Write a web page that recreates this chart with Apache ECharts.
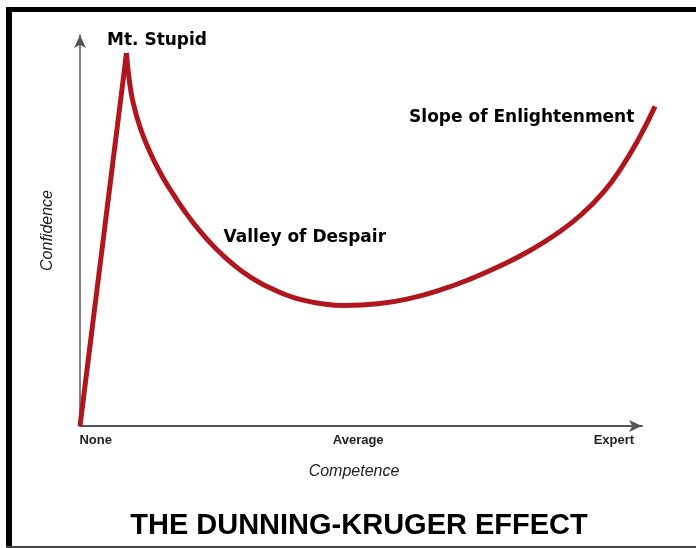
<!DOCTYPE html>
<html>
<head>
<meta charset="utf-8">
<script src="https://cdn.jsdelivr.net/npm/echarts@6/dist/echarts.min.js"></script>
<style>
  html, body { margin: 0; padding: 0; background: #fff; }
  #chart { width: 696px; height: 548px; }
</style>
</head>
<body>
<div id="chart"></div>
<script>
// competence (x) vs confidence (y), 0-100 on both axes
var riseX = [0, 8.27];
var riseY = [0, 95.4];
var curveX = [8.27, 8.72, 9.43, 10.68, 12.46, 14.23, 16.01, 18.68, 21.35, 24.02, 27.22, 30.25, 33.27, 36.48, 39.15, 43.06, 47.15, 53.02, 58.72, 64.41, 69.93, 75.09, 80.07, 84.88, 89.32, 93.06, 96.26, 99.64, 102.31];
var curveY = [95.4, 89.0, 82.86, 76.42, 70.03, 64.91, 60.56, 54.81, 49.82, 45.6, 41.36, 38.13, 35.7, 33.63, 32.4, 31.28, 30.82, 31.25, 32.63, 34.94, 37.88, 41.15, 44.88, 49.23, 54.22, 59.69, 65.91, 74.07, 81.74];

var tickValues = [2.8, 49.5, 95];
var tickLabels = ["None", "Average", "Expert"];

var noteText = ["Mt. Stupid", "Valley of Despair", "Slope of Enlightenment"];
var noteX = [13.7, 40.0, 78.6];
var noteY = [98.7, 48.3, 78.8];

var RED = "#b0161e";
var AXIS = "#555";

var myChart = echarts.init(document.getElementById("chart"));

function pairs(xs, ys) {
    return xs.map(function (x, i) { return [x, ys[i]]; });
}

var notes = noteText.map(function (t, i) {
    return { name: t, value: [noteX[i], noteY[i]] };
});

var option = {
    animation: false,
    backgroundColor: "#fff",
    title: {
        text: "THE DUNNING-KRUGER EFFECT",
        left: 354,
        top: 506,
        textAlign: "center",
        textStyle: {
            fontFamily: "Liberation Sans",
            fontWeight: "bold",
            fontSize: 29,
            color: "#000"
        }
    },
    grid: [
        { left: 80, right: 54, top: 35, bottom: 122 },
        // same scale as grid 0, just wider so the curve can run past the arrow
        { left: 80, width: 584.5, top: 35, bottom: 122 }
    ],
    xAxis: [
        {
            type: "value",
            gridIndex: 0,
            min: 0,
            max: 100,
            name: "Competence",
            nameLocation: "middle",
            nameGap: 38,
            nameTextStyle: {
                fontFamily: "Liberation Sans",
                fontStyle: "italic",
                fontSize: 16,
                color: "#222",
                padding: [0, 14, 0, 0]
            },
            axisLine: {
                symbol: ["none", "arrow"],
                symbolSize: [9, 13],
                lineStyle: { color: AXIS, width: 2 }
            },
            axisTick: { show: false },
            splitLine: { show: false },
            axisLabel: {
                customValues: tickValues,
                margin: 8,
                fontFamily: "Liberation Sans",
                fontWeight: "bold",
                fontSize: 13,
                color: "#222",
                formatter: function (v) {
                    var i = tickValues.indexOf(v);
                    return i >= 0 ? tickLabels[i] : "";
                }
            }
        },
        { type: "value", gridIndex: 1, min: 0, max: 104, show: false }
    ],
    yAxis: [
        {
            type: "value",
            gridIndex: 0,
            min: 0,
            max: 100,
            name: "Confidence",
            nameLocation: "middle",
            nameGap: 24,
            nameRotate: 90,
            nameTextStyle: {
                fontFamily: "Liberation Sans",
                fontStyle: "italic",
                fontSize: 16,
                color: "#222"
            },
            axisLine: {
                show: true,
                symbol: ["none", "arrow"],
                symbolSize: [9, 13],
                lineStyle: { color: AXIS, width: 1.5 }
            },
            axisTick: { show: false },
            axisLabel: { show: false },
            splitLine: { show: false }
        },
        { type: "value", gridIndex: 1, min: 0, max: 100, show: false }
    ],
    series: [
        {
            type: "line",
            xAxisIndex: 1,
            yAxisIndex: 1,
            data: pairs(riseX, riseY),
            showSymbol: false,
            lineStyle: { color: RED, width: 5 }
        },
        {
            type: "line",
            xAxisIndex: 1,
            yAxisIndex: 1,
            data: pairs(curveX, curveY),
            smooth: 0.5,
            showSymbol: false,
            lineStyle: { color: RED, width: 5 }
        },
        {
            type: "scatter",
            data: notes,
            symbolSize: 0,
            silent: true,
            itemStyle: { opacity: 1 },
            label: {
                show: true,
                position: "inside",
                formatter: "{b}",
                fontFamily: "DejaVu Sans",
                fontWeight: "bold",
                fontSize: 17,
                color: "#000",
                opacity: 1,
                textBorderWidth: 0
            }
        }
    ],
    graphic: [
        // picture frame
        { type: "rect", shape: { x: 6, y: 7, width: 690, height: 5 }, style: { fill: "#000" } },
        { type: "rect", shape: { x: 6, y: 7, width: 6, height: 541 }, style: { fill: "#000" } },
        { type: "rect", shape: { x: 6, y: 546, width: 690, height: 2 }, style: { fill: "#444" } }
    ]
};

myChart.setOption(option);
window.addEventListener("resize", function () {
    myChart.resize();
});
</script>
</body>
</html>
